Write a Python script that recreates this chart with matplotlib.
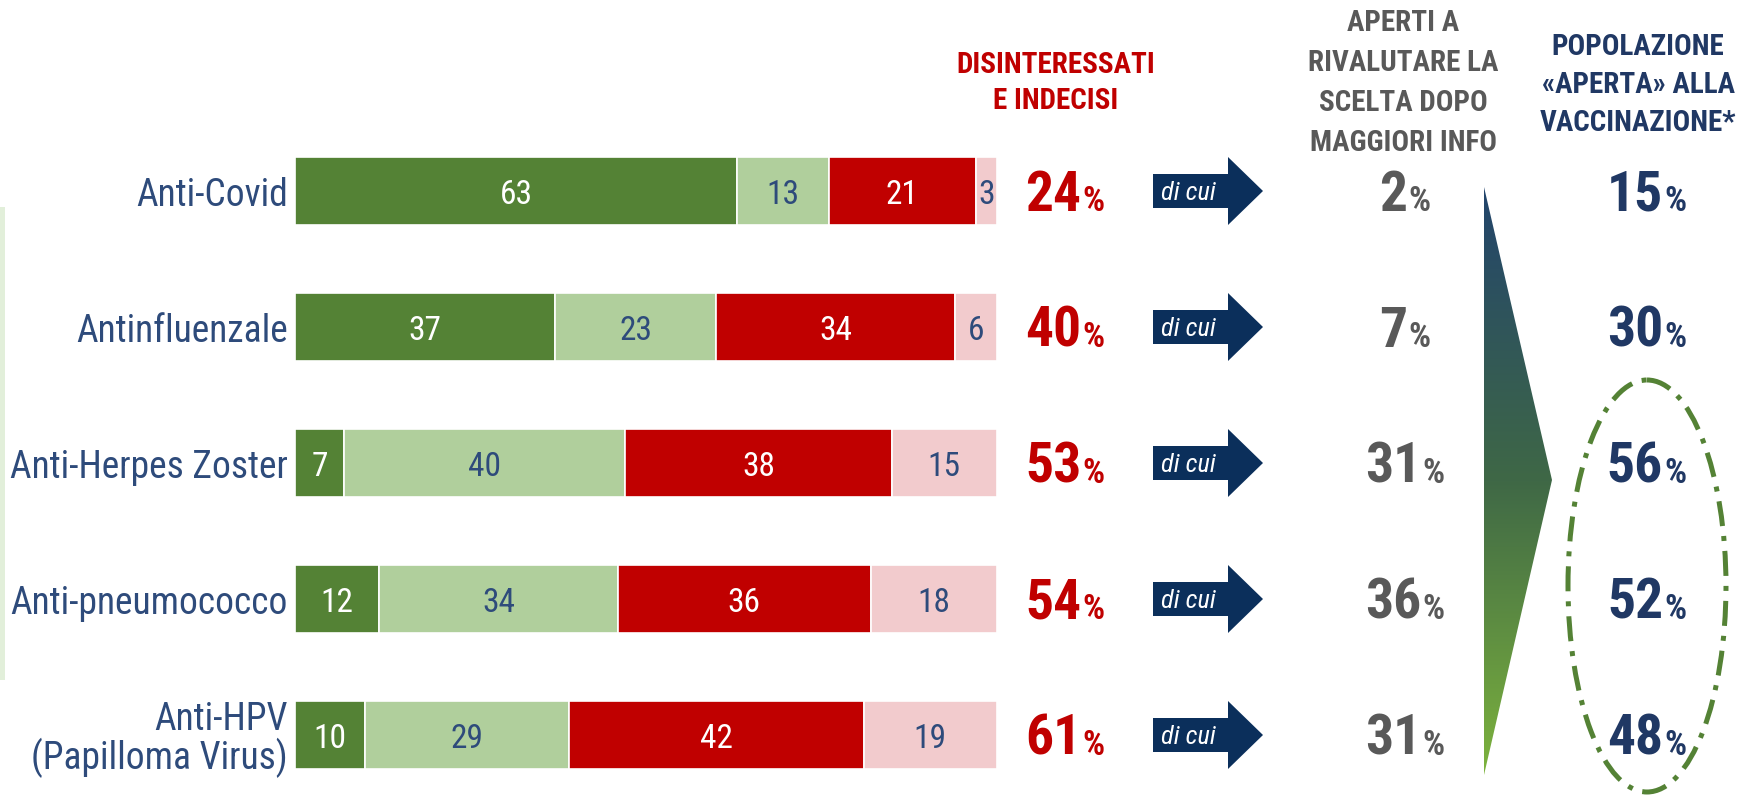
import numpy as np
import matplotlib
matplotlib.use('Agg')
import matplotlib.pyplot as plt
import matplotlib.transforms as mtransforms
from matplotlib.patches import Polygon, Ellipse, FancyArrow, Rectangle
from matplotlib.colors import LinearSegmentedColormap

plt.rcParams['font.family'] = ['Roboto Condensed', 'DejaVu Sans']

# data
vaccines = ['Anti-Covid', 'Antinfluenzale', 'Anti-Herpes Zoster',
            'Anti-pneumococco', 'Anti-HPV\n(Papilloma Virus)']
vaccinati = np.array([63, 37, 7, 12, 10])
favorevoli = np.array([13, 23, 40, 34, 29])
contrari = np.array([21, 34, 38, 36, 42])
indecisi = np.array([3, 6, 15, 18, 19])
disinteressati_pct = [24, 40, 53, 54, 61]
aperti_pct = [2, 7, 31, 36, 31]
popolazione_pct = [15, 30, 56, 52, 48]

header_red = ['DISINTERESSATI', 'E INDECISI']
header_grey = ['APERTI A', 'RIVALUTARE LA', 'SCELTA DOPO', 'MAGGIORI INFO']
header_navy = ['POPOLAZIONE', '\u00abAPERTA\u00bb ALLA', 'VACCINAZIONE*']

# colours
dark_green = '#548235'
light_green = '#B0CF9C'
red = '#C00000'
pink = '#F2CBCD'
label_navy = '#2E4B7B'
navy = '#203864'
arrow_navy = '#0B2F5B'
grey = '#595959'

W, H = 1754, 801
fig = plt.figure(figsize=(W / 100, H / 100), dpi=100)

# bar axes in pixel layout: x 295..997, rows centred 191..735
ax = fig.add_axes([295 / W, 1 - 803 / H, (997 - 295) / W, (803 - 123) / H])
ax.set_xlim(0, 100)
ax.set_ylim(4.5, -0.5)

y = np.arange(len(vaccines))
left = np.zeros(len(vaccines))
segments = [(vaccinati, dark_green, 'white'),
            (favorevoli, light_green, label_navy),
            (contrari, red, 'white'),
            (indecisi, pink, label_navy)]
for vals, col, tcol in segments:
    bars = ax.barh(y, vals, left=left, height=0.5, color=col,
                   edgecolor='white', linewidth=1.2)
    for t in ax.bar_label(bars, label_type='center', color=tcol, fontsize=24):
        t.set_va('center_baseline')
    left = left + vals

ax.set_yticks(y)
ax.set_yticklabels(vaccines, fontsize=27, color=label_navy, linespacing=1.0)
ax.tick_params(axis='y', length=0, pad=5)
ax.set_xticks([])
for s in ax.spines.values():
    s.set_visible(False)

# overlay axes in pixel coordinates
ov = fig.add_axes([0, 0, 1, 1])
ov.set_xlim(0, W)
ov.set_ylim(H, 0)
ov.axis('off')
ov.patch.set_alpha(0)
rowt = mtransforms.blended_transform_factory(ov.transData, ax.transData)
renderer = fig.canvas.get_renderer()


def pct(x, i, num, color, big, small, align):
    off = mtransforms.offset_copy(rowt, fig=fig, y=-big * 0.711 / 2, units='points')
    t1 = ov.text(x, i, str(num), transform=off, fontsize=big, fontweight='bold',
                 color=color, ha='left', va='baseline')
    t2 = ov.text(x, i, '%', transform=off, fontsize=small, fontweight='bold',
                 color=color, ha='left', va='baseline')
    w1 = t1.get_window_extent(renderer).width
    w2 = t2.get_window_extent(renderer).width
    x0 = x if align == 'left' else x - (w1 + w2) / 2
    t1.set_x(x0)
    t2.set_x(x0 + w1 + 1)


for i in y:
    pct(1025, i, disinteressati_pct[i], red, 40, 25, 'left')
    pct(1404, i, aperti_pct[i], grey, 40, 25, 'center')
    pct(1646, i, popolazione_pct[i], navy, 40, 25, 'center')
    arr = FancyArrow(1153, i, 110, 0, width=34 / 136, head_width=68 / 136,
                     head_length=35, length_includes_head=True,
                     transform=rowt, color=arrow_navy, linewidth=0)
    ov.add_patch(arr)
    ov.text(1161, i, 'di cui', transform=rowt, fontsize=19, style='italic',
            color='white', ha='left', va='center_baseline')

# headers
for k, line in enumerate(header_red):
    ov.text(1056, 65 + 36 * k, line, fontsize=21, fontweight='bold', color=red,
            ha='center', va='center')
for k, line in enumerate(header_grey):
    ov.text(1403, 23 + 40 * k, line, fontsize=21, fontweight='bold', color=grey,
            ha='center', va='center')
for k, line in enumerate(header_navy):
    ov.text(1638, 47 + 38 * k, line, fontsize=21, fontweight='bold', color=navy,
            ha='center', va='center')

# gradient triangle
cmap = LinearSegmentedColormap.from_list('tri', ['#22446C', '#3F6846', '#7DB33D'])
tri = Polygon([(1484, 187), (1552, 480), (1484, 775)], closed=True,
              facecolor='none', edgecolor='none')
ov.add_patch(tri)
grad = np.linspace(0, 1, 256).reshape(-1, 1)
im = ov.imshow(grad, cmap=cmap, extent=(1484, 1552, 775, 187), aspect='auto',
               origin='upper', interpolation='bilinear')
im.set_clip_path(tri)

# dash-dot ellipse
ov.add_patch(Ellipse((1647, 586), 158, 412, fill=False, edgecolor=dark_green,
                     linewidth=3.6, linestyle=(0, (5, 2, 1, 2))))

# light green stripe at left
ov.add_patch(Rectangle((0, 207), 5, 473, facecolor='#E2EFDA', edgecolor='none'))

ov.set_xlim(0, W)
ov.set_ylim(H, 0)

fig.savefig('out.png', dpi=100)
